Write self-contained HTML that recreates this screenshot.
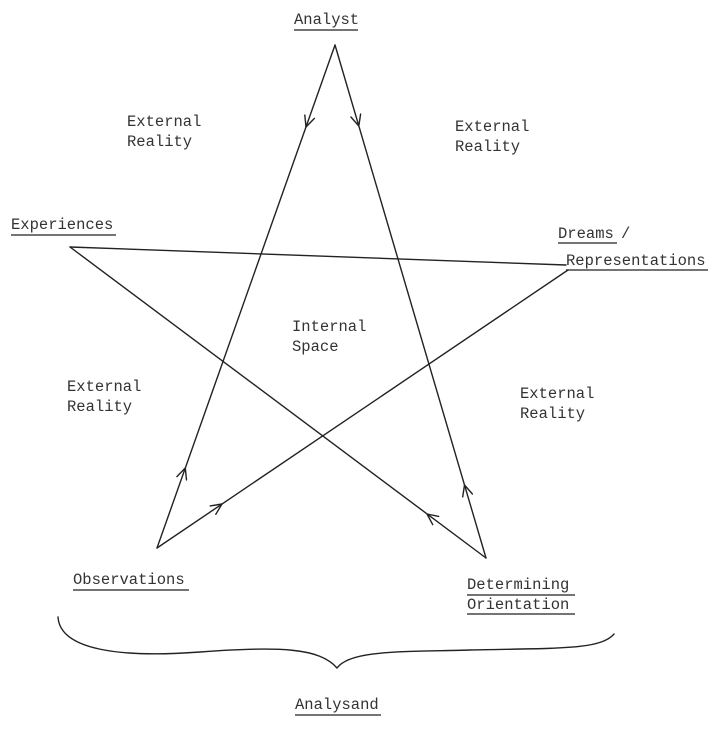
<!DOCTYPE html>
<html><head><meta charset="utf-8"><style>
html,body{margin:0;padding:0;background:#fff;}
svg text{font-family:"Liberation Mono",monospace;font-size:15.5px;fill:#333;}
</style></head><body>
<svg width="718" height="726" viewBox="0 0 718 726" xmlns="http://www.w3.org/2000/svg">
<g stroke="#222" stroke-width="1.4" fill="none" stroke-linecap="round" stroke-linejoin="round">
<line x1="335" y1="45" x2="157" y2="548"/>
<line x1="335" y1="45" x2="486" y2="558"/>
<line x1="70" y1="247" x2="486" y2="558"/>
<line x1="70" y1="247" x2="566" y2="265"/>
<line x1="568" y1="270" x2="157" y2="548"/>
<polyline points="314.4,118.4 306,127 304.8,115.1"/>
<polyline points="360.6,114.1 358.8,126 350.9,117"/>
<polyline points="176.9,476.6 185.3,468 186.5,479.9"/>
<polyline points="210.2,505.9 222,504 215.8,514.3"/>
<polyline points="462.7,496.9 464.5,485 472.4,494"/>
<polyline points="432.7,524.6 427,514 438.7,516.4"/>
<path d="M58,617 C60,650 120,658 200,652 C280,646 320,648 337,668 C350,650 400,652 470,650 C560,648 600,650 614,634"/>
</g>
<g stroke="#222" stroke-width="1.2">
<line x1="294" y1="30" x2="358" y2="30"/>
<line x1="11" y1="235" x2="116" y2="235"/>
<line x1="558" y1="243" x2="617" y2="243"/>
<line x1="566" y1="270" x2="708" y2="270"/>
<line x1="73" y1="590" x2="189" y2="590"/>
<line x1="467" y1="595" x2="575" y2="595"/>
<line x1="467" y1="614" x2="575" y2="614"/>
<line x1="295" y1="715" x2="381" y2="715"/>
</g>
<text x="294" y="24">Analyst</text>
<text x="127" y="126">External</text>
<text x="127" y="146">Reality</text>
<text x="455" y="131">External</text>
<text x="455" y="151">Reality</text>
<text x="11" y="229">Experiences</text>
<text x="558" y="238">Dreams</text>
<text x="621" y="238">/</text>
<text x="566" y="265">Representations</text>
<text x="292" y="331">Internal</text>
<text x="292" y="351">Space</text>
<text x="67" y="391">External</text>
<text x="67" y="411">Reality</text>
<text x="520" y="398">External</text>
<text x="520" y="418">Reality</text>
<text x="73" y="584">Observations</text>
<text x="467" y="589">Determining</text>
<text x="467" y="609">Orientation</text>
<text x="295" y="709">Analysand</text>
</svg>
</body></html>
